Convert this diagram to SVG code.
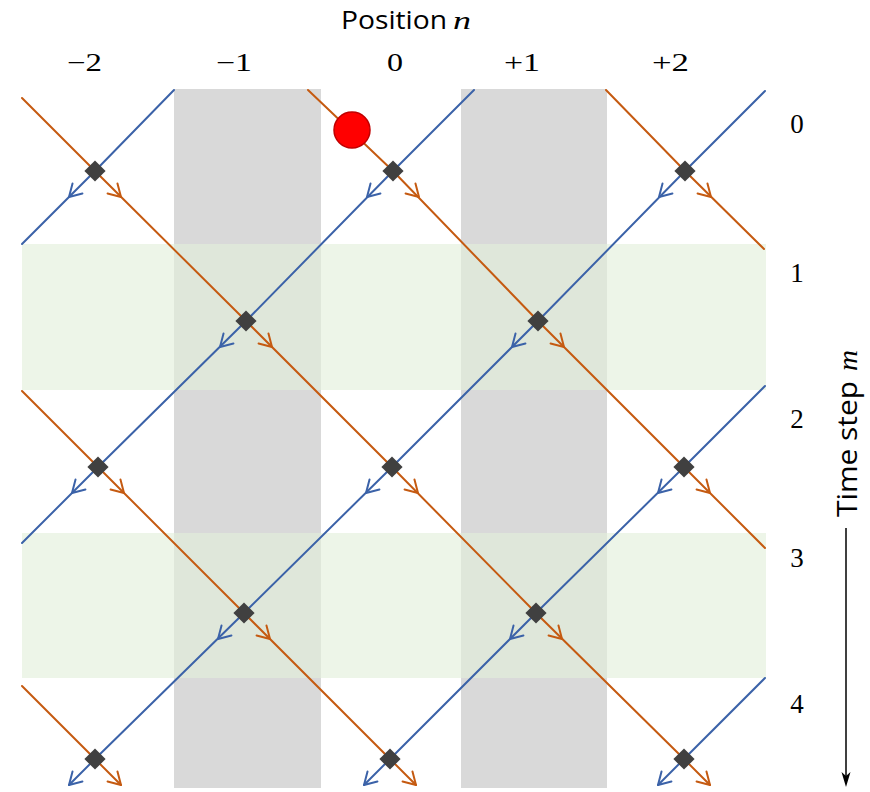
<svg xmlns="http://www.w3.org/2000/svg" width="870" height="792" viewBox="0 0 870 792">
<style>
.gray{fill:#d9d9d9}
.green{fill:#e2efda;fill-opacity:0.62}
.or{stroke:#c55a11;stroke-width:2;fill:none;stroke-linejoin:round;stroke-linecap:round}
.bl{stroke:#3b62a8;stroke-width:2;fill:none;stroke-linejoin:round;stroke-linecap:round}
.node{fill:#404040}
.num{font-family:"Liberation Serif","DejaVu Serif",serif;fill:#000}
.lab{font-family:"Open Sans","Liberation Sans",sans-serif;fill:#000}
.it{font-family:"Liberation Serif","DejaVu Serif",serif;font-style:italic;fill:#000}
</style>
<defs>
<path id="chev" d="M-12,-7 L0,0 L-12,7" fill="none"/>
</defs>
<rect width="870" height="792" fill="#ffffff"/>
<g id="bands">
<rect class="gray" x="174" y="89" width="147" height="699"/>
<rect class="gray" x="461" y="89" width="146" height="699"/>
<rect class="green" x="22" y="244" width="744" height="146"/>
<rect class="green" x="22" y="533" width="744" height="145"/>
</g>
<g id="connectors">
<polyline class="or" points="22,98 95,171 246,321 392,467 536,613 684,759 710,785"/>
<polyline class="or" points="308,90 393,171 538,321 684,467 765,548"/>
<polyline class="or" points="606,90 685,171 764,249"/>
<polyline class="or" points="22,391 98,467 244,613 390,759 416,785"/>
<polyline class="or" points="22,686 95,759 121,785"/>
<polyline class="bl" points="765,91 685,171 538,321 392,467 244,613 95,759 69,785"/>
<polyline class="bl" points="474,90 393,171 246,321 98,467 22,543"/>
<polyline class="bl" points="174,90 95,171 22,244"/>
<polyline class="bl" points="765,386 684,467 536,613 390,759 364,785"/>
<polyline class="bl" points="765,678 684,759 658,785"/>
<g class="or">
<use href="#chev" transform="translate(121,197) rotate(45)"/>
<use href="#chev" transform="translate(419,197) rotate(45)"/>
<use href="#chev" transform="translate(711,197) rotate(45)"/>
<use href="#chev" transform="translate(272,347) rotate(45)"/>
<use href="#chev" transform="translate(564,347) rotate(45)"/>
<use href="#chev" transform="translate(124,493) rotate(45)"/>
<use href="#chev" transform="translate(418,493) rotate(45)"/>
<use href="#chev" transform="translate(710,493) rotate(45)"/>
<use href="#chev" transform="translate(270,639) rotate(45)"/>
<use href="#chev" transform="translate(562,639) rotate(45)"/>
<use href="#chev" transform="translate(121,785) rotate(45)"/>
<use href="#chev" transform="translate(416,785) rotate(45)"/>
<use href="#chev" transform="translate(710,785) rotate(45)"/>
</g>
<g class="bl">
<use href="#chev" transform="translate(69,197) rotate(135)"/>
<use href="#chev" transform="translate(367,197) rotate(135)"/>
<use href="#chev" transform="translate(659,197) rotate(135)"/>
<use href="#chev" transform="translate(220,347) rotate(135)"/>
<use href="#chev" transform="translate(512,347) rotate(135)"/>
<use href="#chev" transform="translate(72,493) rotate(135)"/>
<use href="#chev" transform="translate(366,493) rotate(135)"/>
<use href="#chev" transform="translate(658,493) rotate(135)"/>
<use href="#chev" transform="translate(218,639) rotate(135)"/>
<use href="#chev" transform="translate(510,639) rotate(135)"/>
<use href="#chev" transform="translate(69,785) rotate(135)"/>
<use href="#chev" transform="translate(364,785) rotate(135)"/>
<use href="#chev" transform="translate(658,785) rotate(135)"/>
</g>
</g>
<g id="n-m0-c-2"><rect class="node" x="-7.5" y="-7.5" width="15" height="15" transform="translate(95,171) rotate(45)"/></g>
<g id="n-m0-c0"><rect class="node" x="-7.5" y="-7.5" width="15" height="15" transform="translate(393,171) rotate(45)"/></g>
<g id="n-m0-c2"><rect class="node" x="-7.5" y="-7.5" width="15" height="15" transform="translate(685,171) rotate(45)"/></g>
<g id="n-m1-c-1"><rect class="node" x="-7.5" y="-7.5" width="15" height="15" transform="translate(246,321) rotate(45)"/></g>
<g id="n-m1-c1"><rect class="node" x="-7.5" y="-7.5" width="15" height="15" transform="translate(538,321) rotate(45)"/></g>
<g id="n-m2-c-2"><rect class="node" x="-7.5" y="-7.5" width="15" height="15" transform="translate(98,467) rotate(45)"/></g>
<g id="n-m2-c0"><rect class="node" x="-7.5" y="-7.5" width="15" height="15" transform="translate(392,467) rotate(45)"/></g>
<g id="n-m2-c2"><rect class="node" x="-7.5" y="-7.5" width="15" height="15" transform="translate(684,467) rotate(45)"/></g>
<g id="n-m3-c-1"><rect class="node" x="-7.5" y="-7.5" width="15" height="15" transform="translate(244,613) rotate(45)"/></g>
<g id="n-m3-c1"><rect class="node" x="-7.5" y="-7.5" width="15" height="15" transform="translate(536,613) rotate(45)"/></g>
<g id="n-m4-c-2"><rect class="node" x="-7.5" y="-7.5" width="15" height="15" transform="translate(95,759) rotate(45)"/></g>
<g id="n-m4-c0"><rect class="node" x="-7.5" y="-7.5" width="15" height="15" transform="translate(390,759) rotate(45)"/></g>
<g id="n-m4-c2"><rect class="node" x="-7.5" y="-7.5" width="15" height="15" transform="translate(684,759) rotate(45)"/></g>
<g id="particle"><circle cx="352" cy="130" r="18" fill="#ff0000" stroke="#c00000" stroke-width="1.5"/></g>
<g id="labels">
<text class="lab" x="341" y="29" font-size="25" textLength="106" lengthAdjust="spacingAndGlyphs">Position</text>
<text class="it" x="453" y="29" font-size="25" textLength="18" lengthAdjust="spacingAndGlyphs">n</text>
<text class="num" x="67" y="71" font-size="25" textLength="35" lengthAdjust="spacingAndGlyphs">−2</text>
<text class="num" x="216" y="71" font-size="25" textLength="36" lengthAdjust="spacingAndGlyphs">−1</text>
<text class="num" x="387" y="71" font-size="25" textLength="16" lengthAdjust="spacingAndGlyphs">0</text>
<text class="num" x="504" y="71" font-size="25" textLength="36" lengthAdjust="spacingAndGlyphs">+1</text>
<text class="num" x="652" y="71" font-size="25" textLength="37" lengthAdjust="spacingAndGlyphs">+2</text>
<text class="num" x="797" y="133" font-size="27" text-anchor="middle">0</text>
<text class="num" x="797" y="282" font-size="27" text-anchor="middle">1</text>
<text class="num" x="797" y="428" font-size="27" text-anchor="middle">2</text>
<text class="num" x="797" y="567" font-size="27" text-anchor="middle">3</text>
<text class="num" x="797" y="713" font-size="27" text-anchor="middle">4</text>
<g transform="translate(857,517) rotate(-90)">
<text class="lab" x="0" y="0" font-size="28" textLength="136" lengthAdjust="spacingAndGlyphs">Time step</text>
<text class="it" x="146" y="0" font-size="28" textLength="21" lengthAdjust="spacingAndGlyphs">m</text>
</g>
</g>
<g id="time-arrow">
<line x1="846" y1="528" x2="846" y2="782" stroke="#000" stroke-width="1.5"/>
<path d="M841.5,772 L846,787 L850.5,772 L846,776 Z" fill="#000"/>
</g>
</svg>
